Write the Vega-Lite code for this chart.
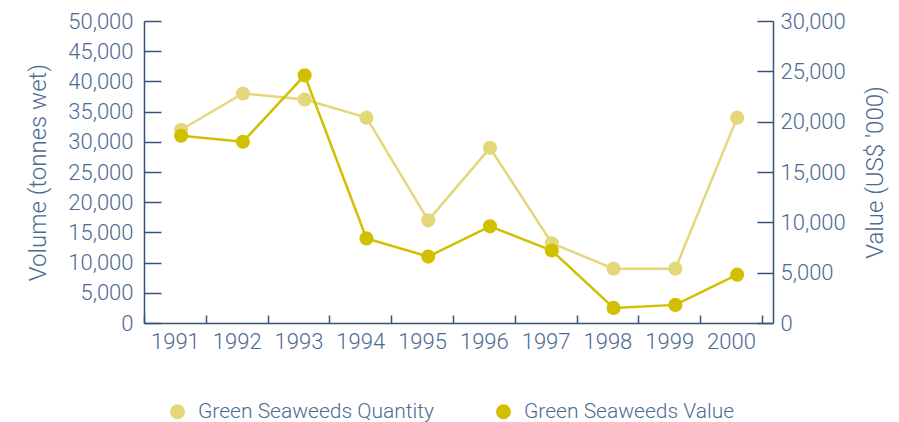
{
  "$schema": "https://vega.github.io/schema/vega-lite/v6.json",
  "width": 629,
  "height": 302,
  "autosize": {"type": "none"},
  "padding": {"left": 144, "top": 21, "right": 126, "bottom": 99},
  "background": "white",
  "config": {
    "view": {"stroke": null},
    "font": "Roboto",
    "axis": {
      "domainColor": "#34527a",
      "domainWidth": 1.5,
      "tickColor": "#34527a",
      "tickWidth": 1.5,
      "labelColor": "#4d6b92",
      "titleColor": "#4d6b92",
      "labelFont": "Roboto",
      "titleFont": "Roboto",
      "labelFontSize": 22,
      "titleFontSize": 24,
      "labelFontWeight": 300,
      "titleFontWeight": 300,
      "grid": false
    },
    "legend": {
      "labelFont": "Roboto",
      "labelFontSize": 21,
      "labelFontWeight": 300,
      "labelColor": "#4d6b92",
      "labelLimit": 0,
      "padding": 0
    }
  },
  "data": {
    "values": [
      {"year": "1991", "quantity": 32000, "value": 18600},
      {"year": "1992", "quantity": 38000, "value": 18000},
      {"year": "1993", "quantity": 37000, "value": 24600},
      {"year": "1994", "quantity": 34000, "value": 8400},
      {"year": "1995", "quantity": 17000, "value": 6600},
      {"year": "1996", "quantity": 29000, "value": 9600},
      {"year": "1997", "quantity": 13200, "value": 7200},
      {"year": "1998", "quantity": 9000, "value": 1500},
      {"year": "1999", "quantity": 9000, "value": 1800},
      {"year": "2000", "quantity": 34000, "value": 4800}
    ]
  },
  "encoding": {
    "x": {
      "field": "year",
      "type": "ordinal",
      "bandPosition": 0.6,
      "scale": {"type": "band", "paddingInner": 0, "paddingOuter": 0.09, "align": 0},
      "axis": {
        "title": null,
        "labelAngle": 0,
        "tickBand": "extent",
        "tickSize": -8,
        "labelPadding": 16
      }
    }
  },
  "layer": [
    {
      "encoding": {
        "y": {
          "field": "quantity",
          "type": "quantitative",
          "scale": {"domain": [0, 50000], "nice": false},
          "axis": {
            "title": "Volume (tonnes wet)",
            "orient": "left",
            "values": [0, 5000, 10000, 15000, 20000, 25000, 30000, 35000, 40000, 45000, 50000],
            "format": ",d",
            "tickSize": -17,
            "labelPadding": 28,
            "titlePadding": 17
          }
        }
      },
      "layer": [
        {"mark": {"type": "line", "color": "#e4d77a", "strokeWidth": 2.5}},
        {
          "mark": {"type": "point", "filled": true, "size": 200, "opacity": 1},
          "encoding": {
            "color": {
              "datum": "Green Seaweeds Quantity",
              "type": "nominal",
              "scale": {
                "domain": ["Green Seaweeds Quantity", "Green Seaweeds Value"],
                "range": ["#e4d77a", "#d2c000"]
              },
              "legend": {
                "title": null,
                "orient": "none",
                "legendX": 23,
                "legendY": 380,
                "direction": "horizontal",
                "symbolType": "circle",
                "symbolSize": 220,
                "symbolOpacity": 1,
                "columnPadding": 59,
                "labelOffset": 10
              }
            }
          }
        }
      ]
    },
    {
      "encoding": {
        "y": {
          "field": "value",
          "type": "quantitative",
          "scale": {"domain": [0, 30000], "nice": false},
          "axis": {
            "title": "Value (US$ '000)",
            "orient": "right",
            "titleAngle": 270,
            "titleBaseline": "top",
            "values": [0, 5000, 10000, 15000, 20000, 25000, 30000],
            "format": ",d",
            "tickSize": -16,
            "labelPadding": 23,
            "titlePadding": 18
          }
        }
      },
      "layer": [
        {"mark": {"type": "line", "color": "#d2c000", "strokeWidth": 2.5}},
        {
          "mark": {"type": "point", "filled": true, "size": 200, "opacity": 1},
          "encoding": {
            "color": {"datum": "Green Seaweeds Value", "type": "nominal"}
          }
        }
      ]
    }
  ],
  "resolve": {"scale": {"y": "independent"}}
}
